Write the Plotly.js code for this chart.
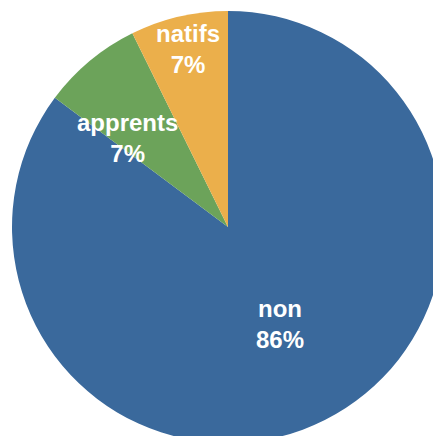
<!DOCTYPE html>
<html>
<head>
<meta charset="utf-8">
<script src="https://cdn.plot.ly/plotly-3.0.1.min.js"></script>
<style>
html, body { margin: 0; padding: 0; overflow: hidden; background: #ffffff; }
#chart { width: 456px; height: 455px; }
</style>
</head>
<body>
<div id="chart"></div>
<script>
// Data (clockwise from 12 o'clock)
const categories = ['non', 'apprents', 'natifs'];
const values = [85.2, 7.5, 7.3];
const percentLabels = ['86%', '7%', '7%'];
const colors = ['#3a699c', '#6ca35a', '#ebaf4b'];

// label anchor points (paper coordinates)
const labelPos = [
  {x: 0.620, y: 0.276},
  {x: 0.2685, y: 0.707},
  {x: 0.407, y: 0.912}
];

const trace = {
  type: 'pie',
  labels: categories,
  values: values,
  sort: false,
  direction: 'clockwise',
  rotation: 0,
  marker: { colors: colors, line: { width: 0 } },
  textinfo: 'none',
  hoverinfo: 'label+percent',
  showlegend: false
};

const annotations = categories.map((c, i) => ({
  xref: 'paper', yref: 'paper',
  x: labelPos[i].x, y: labelPos[i].y,
  xanchor: 'center', yanchor: 'middle',
  text: c + '<br>' + percentLabels[i],
  showarrow: false,
  align: 'center',
  font: { family: 'Liberation Sans, Arial, Helvetica, sans-serif', size: 24, color: '#ffffff', weight: 'bold' }
}));

const layout = {
  width: 456,
  height: 455,
  margin: { l: 12, r: 12, t: 11, b: 12, pad: 0 },
  paper_bgcolor: '#ffffff',
  plot_bgcolor: '#ffffff',
  showlegend: false,
  annotations: annotations
};

Plotly.newPlot('chart', [trace], layout, { displayModeBar: false, staticPlot: true });
</script>
</body>
</html>
